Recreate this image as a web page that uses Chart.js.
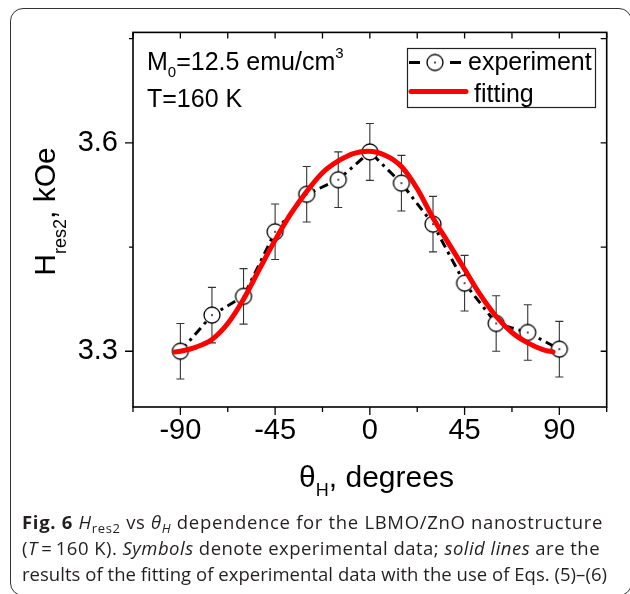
<!DOCTYPE html>
<html><head><meta charset="utf-8">
<script src="https://cdn.jsdelivr.net/npm/chart.js@4.4.1/dist/chart.umd.min.js"></script>
<style>
html,body{margin:0;padding:0;background:#fff;}
body{width:630px;height:594px;overflow:hidden;position:relative;}
#frame{position:absolute;left:10px;top:8px;width:622px;height:588px;border:1.3px solid #333;border-radius:13px;box-sizing:border-box;}
#wrap{position:absolute;left:0;top:0;width:630px;height:594px;}
.cap{position:absolute;left:22px;font-family:"Open Sans",sans-serif;font-size:18.5px;color:#231f20;white-space:nowrap;line-height:20px;}
.cap .s{font-size:13px;position:relative;top:4px;}
</style></head>
<body>
<div id="frame"></div>
<div id="wrap"><canvas id="c" width="630" height="594"></canvas></div>
<div class="cap" data-w="581" style="top:512px"><b>Fig. 6</b> <i>H</i><span class="s">res2</span> vs <i>θ<span class="s">H</span></i> dependence for the LBMO/ZnO nanostructure</div>
<div class="cap" data-w="578" style="top:538px">(<i>T</i>&#8201;=&#8201;160 K). <i>Symbols</i> denote experimental data; <i>solid lines</i> are the</div>
<div class="cap" data-w="585" style="top:564px">results of the fitting of experimental data with the use of Eqs. (5)–(6)</div>
<script>
// ---- data ----
const angles = [-90, -75, -60, -45, -30, -15, 0, 15, 30, 45, 60, 75, 90];
const hres2 = [3.300, 3.352, 3.379, 3.472, 3.526, 3.547, 3.587, 3.542, 3.483, 3.398, 3.340, 3.327, 3.303];
const hres2Err = [0.040, 0.040, 0.040, 0.040, 0.040, 0.040, 0.041, 0.040, 0.040, 0.040, 0.040, 0.040, 0.040];
const fitAngles = [-92.5, -90, -82.5, -75, -67.5, -60, -52.5, -45, -37.5, -30, -22.5, -15, -7.5, -1, 7.5, 15, 22.5, 30, 37.5, 45, 52.5, 60, 67.5, 75, 82.5, 87];
const fitValues = [3.299, 3.300, 3.306, 3.317, 3.340, 3.375, 3.418, 3.460, 3.498, 3.530, 3.557, 3.574, 3.585, 3.588, 3.582, 3.566, 3.534, 3.492, 3.455, 3.418, 3.381, 3.350, 3.327, 3.312, 3.302, 3.299];
const xTickValues = [-112.5, -90, -67.5, -45, -22.5, 0, 22.5, 45, 67.5, 90, 112.5];
const xTickLabels = ['', '-90', '', '-45', '', '0', '', '45', '', '90', ''];
const yTickValues = [3.3, 3.45, 3.6, 3.75];
const yTickLabels = ['3.3', '', '3.6', ''];
const seriesNames = ['experiment', 'fitting'];

const FONT = '"Liberation Sans", Arial, sans-serif';

// fit caption lines to their widths
document.querySelectorAll('.cap').forEach(el => {
  const target = +el.dataset.w;
  const w = el.getBoundingClientRect().width;
  const n = el.textContent.length;
  el.style.letterSpacing = ((target - w) / n).toFixed(3) + 'px';
});

function makeMarker() {
  const c = document.createElement('canvas');
  c.width = 20; c.height = 20;
  const g = c.getContext('2d');
  g.beginPath(); g.arc(10, 10, 8, 0, 2 * Math.PI);
  g.fillStyle = '#fff'; g.fill();
  g.lineWidth = 1.3; g.strokeStyle = '#000'; g.stroke();
  g.beginPath(); g.arc(10, 10, 0.9, 0, 2 * Math.PI);
  g.fillStyle = '#000'; g.fill();
  return c;
}
const marker = makeMarker();

function drawRuns(ctx, x, y, parts) {
  parts.forEach(p => {
    ctx.font = p.s + 'px ' + FONT;
    ctx.fillText(p.t, x, y + (p.dy || 0));
    x += ctx.measureText(p.t).width;
  });
  return x;
}
function runsWidth(ctx, parts) {
  let w = 0;
  parts.forEach(p => { ctx.font = p.s + 'px ' + FONT; w += ctx.measureText(p.t).width; });
  return w;
}

const errorBars = {
  id: 'errorBars',
  beforeDatasetsDraw(chart) {
    const { ctx, scales: { x, y } } = chart;
    ctx.save();
    ctx.strokeStyle = '#333';
    ctx.lineWidth = 1.1;
    angles.forEach((a, i) => {
      const px = x.getPixelForValue(a);
      const top = y.getPixelForValue(hres2[i] + hres2Err[i]);
      const bot = y.getPixelForValue(hres2[i] - hres2Err[i]);
      ctx.beginPath();
      ctx.moveTo(px, top); ctx.lineTo(px, bot);
      ctx.moveTo(px - 4, top); ctx.lineTo(px + 4, top);
      ctx.moveTo(px - 4, bot); ctx.lineTo(px + 4, bot);
      ctx.stroke();
    });
    ctx.restore();
  }
};

const frameAndText = {
  id: 'frameAndText',
  afterDraw(chart) {
    const { ctx, chartArea: a, scales: { x, y } } = chart;
    ctx.save();
    ctx.strokeStyle = '#000';
    ctx.lineWidth = 1.6;
    ctx.strokeRect(a.left, a.top, a.right - a.left, a.bottom - a.top);
    ctx.lineWidth = 1.3;
    ctx.beginPath();
    xTickValues.forEach((v, i) => {
      const px = x.getPixelForValue(v);
      const len = xTickLabels[i] ? 8 : 5;
      ctx.moveTo(px, a.bottom); ctx.lineTo(px, a.bottom + len);
      ctx.moveTo(px, a.top); ctx.lineTo(px, a.top + 6);
    });
    yTickValues.forEach((v, i) => {
      const py = y.getPixelForValue(v);
      const len = yTickLabels[i] ? 8 : 4;
      ctx.moveTo(a.left, py); ctx.lineTo(a.left - len, py);
      ctx.moveTo(a.right, py); ctx.lineTo(a.right - 6, py);
    });
    ctx.stroke();

    // annotation
    ctx.fillStyle = '#000';
    ctx.textBaseline = 'alphabetic';
    ctx.textAlign = 'left';
    drawRuns(ctx, 147, 70, [{ t: 'M', s: 25 }, { t: '0', s: 15, dy: 7 }, { t: '=12.5 emu/cm', s: 25 }, { t: '3', s: 15, dy: -12 }]);
    drawRuns(ctx, 147, 107, [{ t: 'T=160 K', s: 25 }]);

    // legend
    ctx.strokeStyle = '#222';
    ctx.lineWidth = 1.2;
    ctx.strokeRect(407.5, 48.5, 188, 59);
    ctx.strokeStyle = '#000';
    ctx.lineWidth = 3;
    ctx.beginPath();
    ctx.moveTo(409, 62.5); ctx.lineTo(420, 62.5);
    ctx.moveTo(450, 62.5); ctx.lineTo(461, 62.5);
    ctx.stroke();
    ctx.drawImage(marker, 435 - 10, 62.5 - 10);
    ctx.strokeStyle = '#ff0000';
    ctx.lineWidth = 5;
    ctx.lineCap = 'round';
    ctx.beginPath();
    ctx.moveTo(411, 91.5); ctx.lineTo(466, 91.5);
    ctx.stroke();
    ctx.lineCap = 'butt';
    drawRuns(ctx, 468, 70, [{ t: seriesNames[0], s: 25 }]);
    drawRuns(ctx, 474, 101.5, [{ t: seriesNames[1], s: 25 }]);

    // x title
    const xParts = [{ t: 'θ', s: 30 }, { t: 'H', s: 18, dy: 9 }, { t: ', degrees', s: 30 }];
    const xw = runsWidth(ctx, xParts);
    drawRuns(ctx, 376.5 - xw / 2, 487, xParts);

    // y title (rotated)
    const yParts = [{ t: 'H', s: 30 }, { t: 'res2', s: 18, dy: 11 }, { t: ', kOe', s: 30 }];
    const yw = runsWidth(ctx, yParts);
    ctx.translate(55, 211.5);
    ctx.rotate(-Math.PI / 2);
    drawRuns(ctx, -yw / 2, 0, yParts);
    ctx.restore();
  }
};

new Chart(document.getElementById('c'), {
  type: 'scatter',
  data: {
    datasets: [
      {
        label: seriesNames[1],
        data: fitAngles.map((a, i) => ({ x: a, y: fitValues[i] })),
        showLine: true,
        borderColor: '#ff0000',
        backgroundColor: '#ff0000',
        borderWidth: 5,
        pointRadius: 0,
        pointHoverRadius: 0,
        cubicInterpolationMode: 'monotone',
        borderCapStyle: 'round',
        borderJoinStyle: 'round',
        order: 0
      },
      {
        label: seriesNames[0],
        data: angles.map((a, i) => ({ x: a, y: hres2[i] })),
        showLine: true,
        borderColor: '#000',
        backgroundColor: '#fff',
        borderWidth: 3,
        borderDash: [9, 5, 3, 5],
        pointStyle: marker,
        pointRadius: 8,
        tension: 0,
        order: 1
      }
    ]
  },
  options: {
    responsive: false,
    animation: false,
    devicePixelRatio: 1,
    layout: { padding: { left: 0, top: 26, right: 23.3, bottom: 127 } },
    plugins: { legend: { display: false }, tooltip: { enabled: false } },
    scales: {
      x: {
        type: 'linear',
        min: -112.5, max: 112.5,
        afterBuildTicks: s => { s.ticks = xTickValues.map(v => ({ value: v })); },
        afterFit: s => { s.height = 60; },
        ticks: {
          callback: (v, i) => xTickLabels[i],
          font: { family: FONT, size: 29 },
          color: '#000',
          padding: 7,
          maxRotation: 0,
          autoSkip: false
        },
        grid: { display: false, drawTicks: false },
        border: { display: false }
      },
      y: {
        type: 'linear',
        min: 3.2197, max: 3.7591,
        afterBuildTicks: s => { s.ticks = yTickValues.map(v => ({ value: v })); },
        afterFit: s => { s.width = 133; },
        ticks: {
          callback: (v, i) => yTickLabels[i],
          font: { family: FONT, size: 29 },
          color: '#000',
          padding: 15,
          autoSkip: false
        },
        grid: { display: false, drawTicks: false },
        border: { display: false }
      }
    }
  },
  plugins: [errorBars, frameAndText]
});
</script>
</body></html>
